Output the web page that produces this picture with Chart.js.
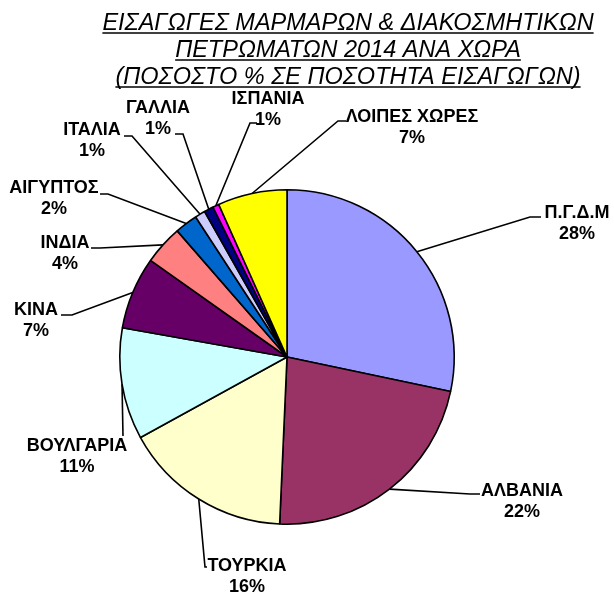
<!DOCTYPE html>
<html>
<head>
<meta charset="utf-8">
<script src="https://cdn.jsdelivr.net/npm/chart.js@4"></script>
<style>
  body { margin: 0; background: #fff; }
  #wrap { width: 614px; height: 592px; }
</style>
</head>
<body>
<div id="wrap"><canvas id="chart1" width="614" height="592"></canvas></div>
<script>
const titleLines = [
  "ΕΙΣΑΓΩΓΕΣ ΜΑΡΜΑΡΩΝ & ΔΙΑΚΟΣΜΗΤΙΚΩΝ",
  "ΠΕΤΡΩΜΑΤΩΝ 2014 ΑΝΑ ΧΩΡΑ",
  "(ΠΟΣΟΣΤΟ % ΣΕ ΠΟΣΟΤΗΤΑ ΕΙΣΑΓΩΓΩΝ)"
];

const countries = ["Π.Γ.Δ.Μ", "ΑΛΒΑΝΙΑ", "ΤΟΥΡΚΙΑ", "ΒΟΥΛΓΑΡΙΑ", "ΚΙΝΑ", "ΙΝΔΙΑ",
  "ΑΙΓΥΠΤΟΣ", "ΙΤΑΛΙΑ", "ΓΑΛΛΙΑ", "ΙΣΠΑΝΙΑ", "ΛΟΙΠΕΣ ΧΩΡΕΣ"];
const shares = [28.3, 22.4, 16.3, 10.8, 7.0, 3.8, 2.2, 1.0, 0.9, 0.6, 6.7];
const pctLabels = ["28%", "22%", "16%", "11%", "7%", "4%", "2%", "1%", "1%", "1%", "7%"];

const sliceColors = ["#9999FF", "#993366", "#FFFFCC", "#CCFFFF", "#660066", "#FF8080",
  "#0066CC", "#CCCCFF", "#000080", "#FF00FF", "#FFFF00"];

// label layout: text centre x, first line y, elbow of the leader line, stub end x
const labelPos = [
  { x: 577, y: 213, ex: 530, ey: 217, sx: 541 },
  { x: 522, y: 491, ex: 470, ey: 494, sx: 480 },
  { x: 247, y: 566, ex: 205, ey: 567, sx: 207 },
  { x: 77, y: 446, ex: 123, ey: 436, sx: 123 },
  { x: 36, y: 310, ex: 72, ey: 315, sx: 61 },
  { x: 65, y: 243, ex: 100, ey: 248, sx: 91 },
  { x: 54, y: 188, ex: 108, ey: 194, sx: 100 },
  { x: 92, y: 130, ex: 132, ey: 136, sx: 124 },
  { x: 158, y: 108, ex: 183, ey: 134, sx: 175 },
  { x: 268, y: 99, ex: 250, ey: 123, sx: 257 },
  { x: 412, y: 117, ex: 338, ey: 121, sx: 346 }
];

const titlePlugin = {
  id: "underlinedTitle",
  afterDraw(chart) {
    const c = chart.ctx;
    c.save();
    c.font = "italic 23.5px 'Liberation Sans', Arial, sans-serif";
    c.fillStyle = "#000";
    c.strokeStyle = "#000";
    c.lineWidth = 1.6;
    c.textAlign = "center";
    c.textBaseline = "alphabetic";
    titleLines.forEach((t, i) => {
      const y = 30 + i * 27;
      c.fillText(t, 348, y);
      const w = c.measureText(t).width;
      c.beginPath();
      c.moveTo(348 - w / 2, y + 3);
      c.lineTo(348 + w / 2, y + 3);
      c.stroke();
    });
    c.restore();
  }
};

const labelPlugin = {
  id: "sliceLabels",
  afterDatasetsDraw(chart) {
    const c = chart.ctx;
    const meta = chart.getDatasetMeta(0);
    c.save();
    c.strokeStyle = "#000";
    c.lineWidth = 1.6;
    meta.data.forEach((arc, i) => {
      const p = labelPos[i];
      const mid = (arc.startAngle + arc.endAngle) / 2;
      const r = arc.outerRadius;
      const ax = arc.x + Math.cos(mid) * r;
      const ay = arc.y + Math.sin(mid) * r;
      c.beginPath();
      c.moveTo(ax, ay);
      c.lineTo(p.ex, p.ey);
      c.lineTo(p.sx, p.ey);
      c.stroke();
    });
    c.font = "bold 18px 'Liberation Sans', Arial, sans-serif";
    c.fillStyle = "#000";
    c.textAlign = "center";
    c.textBaseline = "middle";
    countries.forEach((name, i) => {
      const p = labelPos[i];
      c.fillText(name, p.x, p.y);
      c.fillText(pctLabels[i], p.x, p.y + 21);
    });
    c.restore();
  }
};

const ctx = document.getElementById("chart1").getContext("2d");
const myChart = new Chart(ctx, {
  type: "pie",
  data: {
    labels: countries,
    datasets: [{
      data: shares,
      backgroundColor: sliceColors,
      borderColor: "#000",
      borderWidth: 1.6
    }]
  },
  options: {
    responsive: false,
    animation: false,
    layout: { padding: { left: 119, right: 159, top: 189, bottom: 67 } },
    plugins: {
      legend: { display: false },
      tooltip: { enabled: false }
    }
  },
  plugins: [titlePlugin, labelPlugin]
});
</script>
</body>
</html>
